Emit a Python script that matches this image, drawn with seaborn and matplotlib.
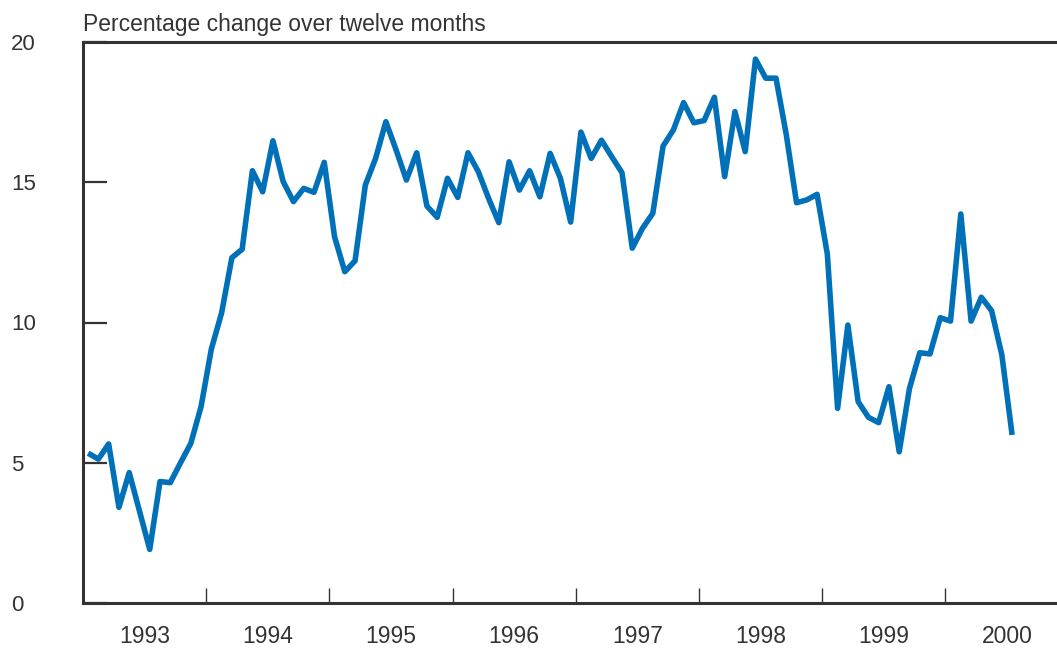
import numpy as np
import pandas as pd
import matplotlib
matplotlib.use("Agg")
import matplotlib.pyplot as plt
import seaborn as sns

# Monthly values, percentage change over twelve months (Jan 1993 - Jul 2000)
v1993 = [5.34, 5.13, 5.67, 3.41, 4.65, 3.28, 1.91, 4.33, 4.29, 5.0, 5.69, 7.0]
v1994 = [9.05, 10.34, 12.31, 12.61, 15.41, 14.66, 16.48, 15.02, 14.31, 14.78, 14.64, 15.71]
v1995 = [13.06, 11.81, 12.2, 14.9, 15.85, 17.16, 16.15, 15.08, 16.05, 14.15, 13.75, 15.14]
v1996 = [14.46, 16.05, 15.38, 14.43, 13.56, 15.73, 14.72, 15.41, 14.48, 16.03, 15.14, 13.58]
v1997 = [16.79, 15.85, 16.5, 15.91, 15.34, 12.65, 13.36, 13.89, 16.29, 16.86, 17.84, 17.12]
v1998 = [17.2, 18.03, 15.2, 17.52, 16.09, 19.39, 18.71, 18.71, 16.7, 14.27, 14.37, 14.57]
v1999 = [12.44, 6.94, 9.91, 7.18, 6.62, 6.43, 7.71, 5.39, 7.65, 8.92, 8.88, 10.17]
v2000 = [10.05, 13.87, 10.05, 10.9, 10.42, 8.84, 5.99]

years = [1993, 1994, 1995, 1996, 1997, 1998, 1999, 2000]
year_labels = ["1993", "1994", "1995", "1996", "1997", "1998", "1999", "2000"]
series = [v1993, v1994, v1995, v1996, v1997, v1998, v1999, v2000]

# build a long table: decimal year (mid-month) and value
rows = []
for yr, vals in zip(years, series):
    for m, v in enumerate(vals):
        rows.append({"t": yr + (m + 0.5) / 12, "value": v})
data = pd.DataFrame(rows)

sns.set_style("white")
plt.rcParams["font.family"] = ["Liberation Sans", "DejaVu Sans"]

fig = plt.figure(figsize=(10.57, 6.5), dpi=100)
ax = fig.add_axes([83 / 1057, 47 / 650, 974 / 1057, 561 / 650])

sns.lineplot(data=data, x="t", y="value", ax=ax, color="#0070b8",
             linewidth=4.0, solid_joinstyle="round", solid_capstyle="butt")

ax.set_xlim(1993, 1993 + 974 / 123.2)
ax.set_ylim(0, 20)
ax.set_xlabel("")
ax.set_ylabel("")

# spines
edge = "#333333"
for side in ["left", "top", "bottom"]:
    ax.spines[side].set_visible(True)
    ax.spines[side].set_color(edge)
    ax.spines[side].set_linewidth(2.2)
ax.spines["right"].set_visible(False)

# y ticks: inward, labels far left
ax.set_yticks([0, 5, 10, 15, 20])
ax.set_yticklabels(["0", "5", "10", "15", "20"])
ax.tick_params(axis="y", direction="in", length=17, width=1.6, color=edge,
               pad=52, labelsize=16, labelcolor="#333333", left=True)
for lab in ax.get_yticklabels():
    lab.set_ha("left")

# x ticks: boundaries between years, labels centred on each year
ax.set_xticks(years[1:])
ax.set_xticklabels([])
ax.set_xticks([y + 0.5 for y in years], minor=True)
ax.set_xticklabels(year_labels, minor=True)
ax.tick_params(axis="x", which="major", direction="in", length=11, width=1,
               color=edge, bottom=True)
ax.tick_params(axis="x", which="minor", length=0, pad=16, labelsize=16.5,
               labelcolor="#333333", bottom=True)

ax.text(0, 1.01, "Percentage change over twelve months", transform=ax.transAxes,
        ha="left", va="bottom", fontsize=16.5, color="#333333")

fig.savefig("out.png", dpi=100)
